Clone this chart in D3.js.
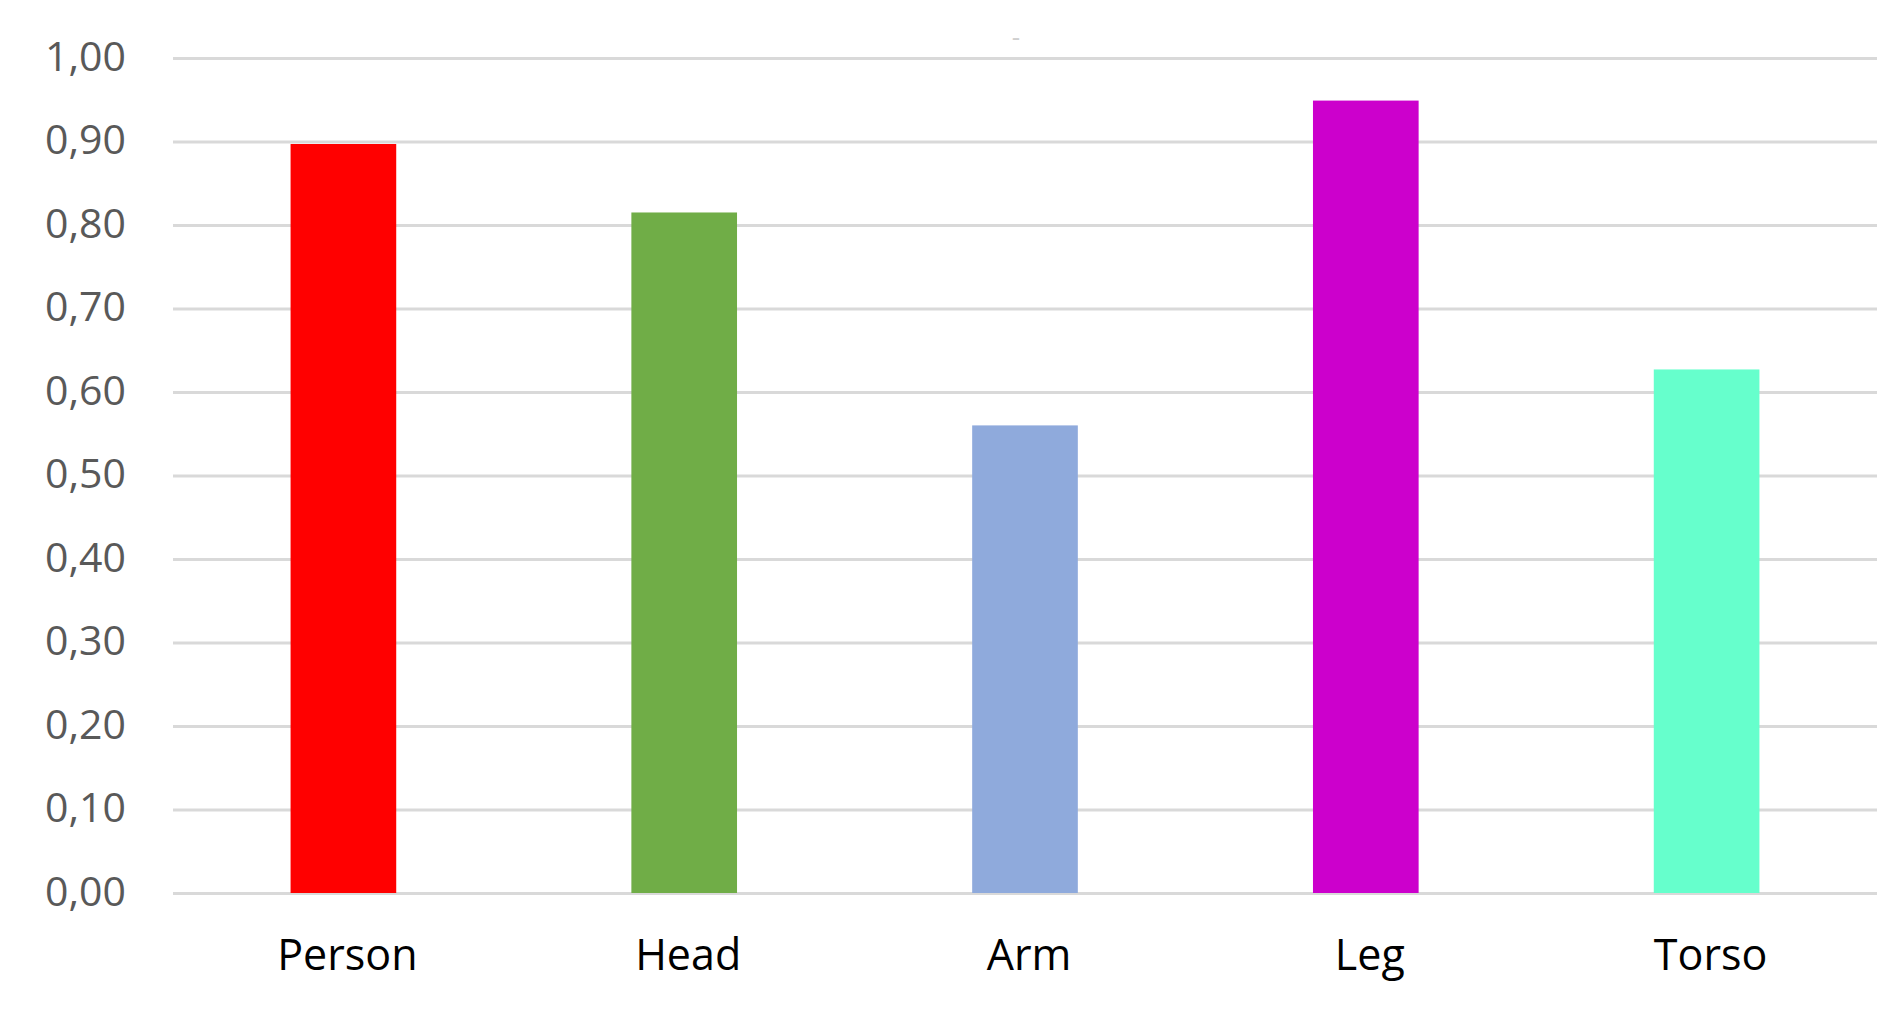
<!doctype html>
<html lang="en">
<head>
  <meta charset="utf-8">
  <title>Part detection scores</title>
</head>

<style>
  body {
    margin: 0;
    background: #fff;
    font-family: "Open Sans", sans-serif;
  }
</style>

<body>

  <script src="https://cdn.jsdelivr.net/npm/d3@7"></script>

  <svg xmlns="http://www.w3.org/2000/svg"></svg>

  <script>

    // data
    var categories = ["Person", "Head", "Arm", "Leg", "Torso"];
    var values = [0.897, 0.815, 0.56, 0.949, 0.627];
    var barColors = ["#ff0000", "#70ad47", "#8faadc", "#cc00cc", "#66ffcc"];
    var yTicks = [0, 0.1, 0.2, 0.3, 0.4, 0.5, 0.6, 0.7, 0.8, 0.9, 1.0];

    var svg = d3.select("svg")
        .attr("width", 1899)
        .attr("height", 1026),
      margin = { top: 58, right: 22, bottom: 133, left: 173 },
      width = 1899 - margin.left - margin.right,
      height = 1026 - margin.top - margin.bottom,
      g = svg.append("g").attr("transform", "translate(" + margin.left + "," + margin.top + ")");

    var x = d3.scaleBand()
      .domain(categories)
      .range([0, width])
      .paddingInner(0.69)
      .paddingOuter(0.345);

    var y = d3.scaleLinear()
      .domain([0, 1])
      .range([height, 0]);

    // gridlines + y labels
    g.append("g")
      .attr("class", "y axis")
      .call(d3.axisLeft(y)
        .tickValues(yTicks)
        .tickSize(-width)
        .tickPadding(47)
        .tickFormat(function(d) { return d3.format(".2f")(d).replace(".", ","); }))
      .call(g => g.select(".domain").remove())
      .call(g => g.selectAll(".tick line")
        .attr("stroke", "#d9d9d9")
        .attr("stroke-width", 3))
      .call(g => g.selectAll(".tick text")
        .attr("fill", "#595959")
        .attr("dy", "0.3em")
        .style("font-family", "'Open Sans', sans-serif")
        .style("font-size", "41px"));

    // bars
    g.selectAll(".bar")
      .data(categories)
      .enter().append("rect")
      .attr("class", "bar")
      .attr("x", d => x(d))
      .attr("width", x.bandwidth())
      .attr("y", (d, i) => y(values[i]))
      .attr("height", (d, i) => height - y(values[i]))
      .attr("fill", (d, i) => barColors[i]);

    // category labels
    g.append("g")
      .attr("class", "x axis")
      .attr("transform", "translate(0," + height + ")")
      .call(d3.axisBottom(x).tickSize(0).tickPadding(77))
      .call(g => g.select(".domain").remove())
      .call(g => g.selectAll(".tick text")
        .attr("fill", "#000")
        .attr("dy", "0")
        .attr("dx", "4")
        .style("font-family", "'Open Sans', sans-serif")
        .style("font-size", "43px"));

    // blank title placeholder (tiny dash in the original)
    svg.append("text")
      .attr("x", margin.left + width / 2 - 9)
      .attr("y", 46)
      .attr("text-anchor", "middle")
      .attr("fill", "#cfcfcf")
      .style("font-size", "26px")
      .text("-");

  </script>
</body>
</html>
